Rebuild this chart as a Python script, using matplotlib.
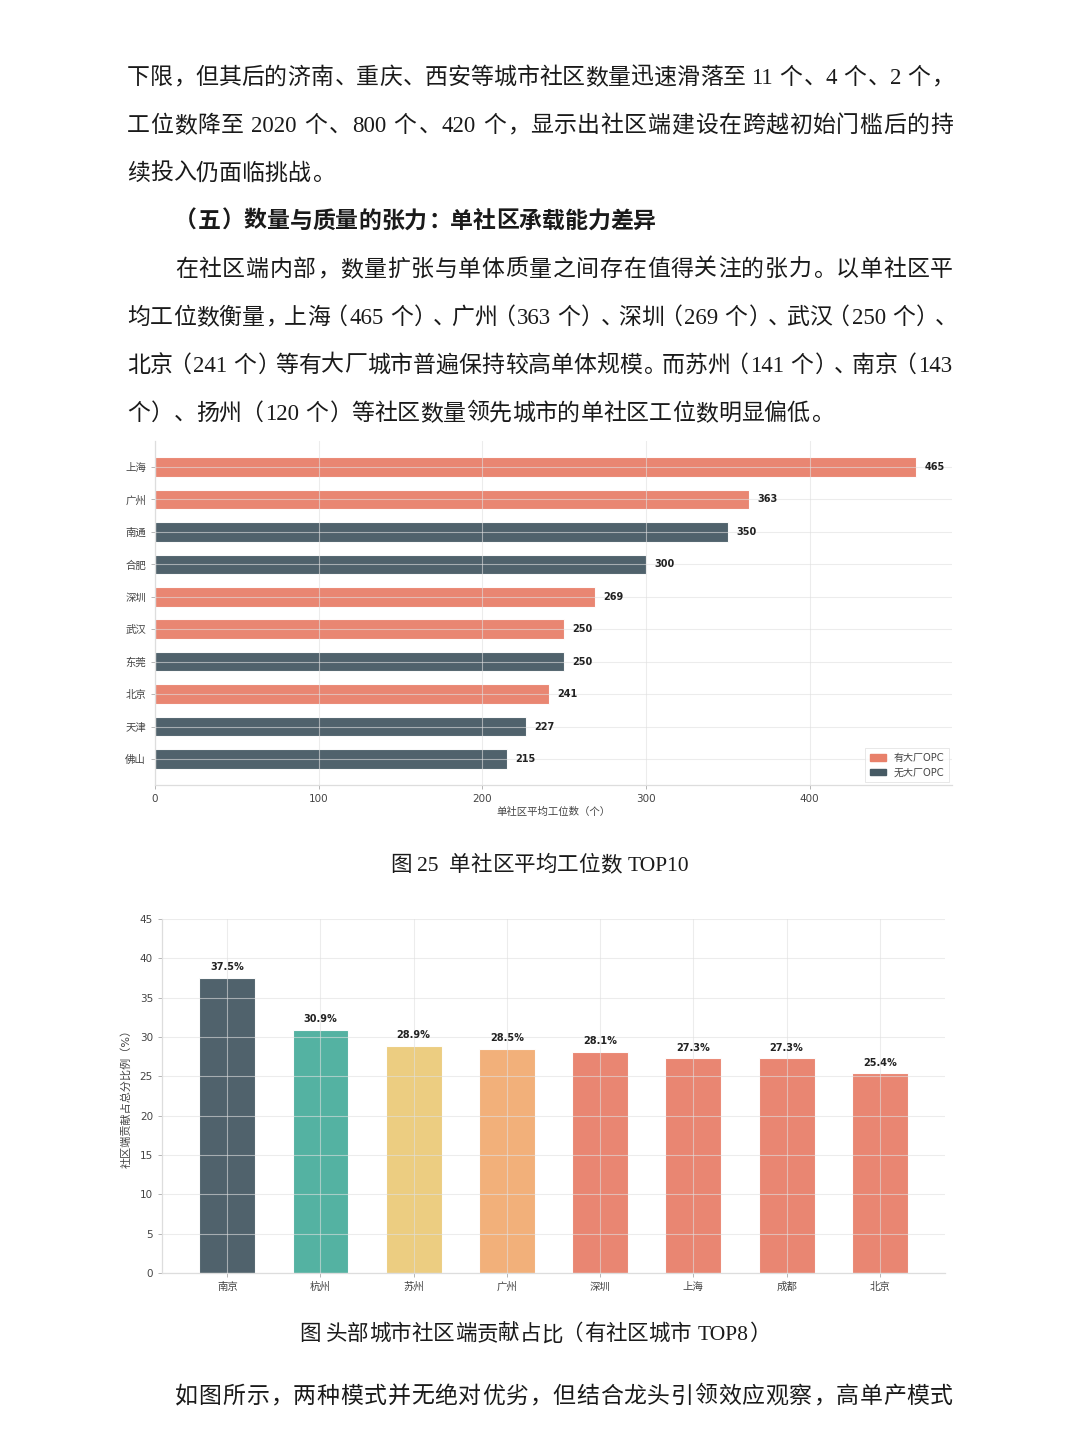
import re
import matplotlib
matplotlib.use("Agg")
import matplotlib.pyplot as plt
from matplotlib.patches import Patch

W, H = 1080, 1440

# chart 1: average seats per community, TOP10
cities_top = ["上海", "广州", "南通", "合肥", "深圳", "武汉", "东莞", "北京", "天津", "佛山"]
seats = [465, 363, 350, 300, 269, 250, 250, 241, 227, 215]
has_big = [True, True, False, False, True, True, False, True, False, False]

# chart 2: community share of total score, TOP8
cities_share = ["南京", "杭州", "苏州", "广州", "深圳", "上海", "成都", "北京"]
share = [37.5, 30.9, 28.9, 28.5, 28.1, 27.3, 27.3, 25.4]

ORANGE = "#E8806A"
SLATE = "#465A64"
share_colors = [SLATE, "#4BAE9D", "#EBCB7A", "#F2AC73", ORANGE, ORANGE, ORANGE, ORANGE]

body_fonts = ["Liberation Serif", "Noto Sans CJK SC", "DejaVu Sans"]
chart_fonts = ["DejaVu Sans", "Noto Sans CJK SC"]

fig = plt.figure(figsize=(W / 100, H / 100), dpi=100)
fig.patch.set_facecolor("white")
renderer = fig.canvas.get_renderer()

LEFT_P = set("，、。：；）」！？")
RIGHT_P = set("（「")


def px(size):
    return size * 100 / 72


def draw_line(s, x0, yc, x1=None, size=16.5, weight="normal", center=None):
    # lay out token by token so the line can be justified like the page
    e = px(size)
    toks = re.findall(r"[0-9A-Za-z.]+| |.", s)
    items = []
    for t in toks:
        if t == " ":
            items.append([None, 0.22 * e, "sp"])
            continue
        txt = fig.text(0, 0, t, fontsize=size, family=body_fonts, weight=weight,
                       color="#1a1a1a", va="baseline")
        if re.match(r"[0-9A-Za-z.]", t):
            w = txt.get_window_extent(renderer).width
            items.append([txt, w + 0.08 * e, "asc"])
        elif t in LEFT_P:
            items.append([txt, e, "lp"])
        elif t in RIGHT_P:
            items.append([txt, e, "rp"])
        else:
            items.append([txt, e, "cjk"])
    total = sum(it[1] for it in items)
    gap = 0
    if x1 is not None and len(items) > 1:
        avail = x1 - x0
        if total > avail:
            # squeeze punctuation the way the typesetter does
            punct = [it for it in items if it[2] in ("lp", "rp")]
            cut = min((total - avail) / max(len(punct), 1), 0.45 * e)
            for it in punct:
                it[1] -= cut
            total = sum(it[1] for it in items)
        gap = (avail - total) / (len(items) - 1)
    if center is not None:
        x0 = center - total / 2
    x = x0
    base = 1 - (yc + 0.38 * e) / H
    for txt, adv, kind in items:
        if txt is not None:
            if kind == "asc":
                txt.set_ha("left")
                txt.set_position(((x + 0.04 * e) / W, base))
            elif kind == "lp":
                txt.set_ha("left")
                txt.set_position(((x + 0.06 * e) / W, base))
            elif kind == "rp":
                txt.set_ha("right")
                txt.set_position(((x + adv - 0.06 * e) / W, base))
            else:
                txt.set_ha("center")
                txt.set_position(((x + 0.5 * e) / W, base))
        x += adv + gap


draw_line("下限，但其后的济南、重庆、西安等城市社区数量迅速滑落至 11 个、4 个、2 个，", 127, 75, 953)
draw_line("工位数降至 2020 个、800 个、420 个，显示出社区端建设在跨越初始门槛后的持", 127, 123, 953)
draw_line("续投入仍面临挑战。", 127, 171)
draw_line("（五）数量与质量的张力：单社区承载能力差异", 175, 219, weight="bold")
draw_line("在社区端内部，数量扩张与单体质量之间存在值得关注的张力。以单社区平", 175, 267, 953)
draw_line("均工位数衡量，上海（465 个）、广州（363 个）、深圳（269 个）、武汉（250 个）、", 127, 315, 953)
draw_line("北京（241 个）等有大厂城市普遍保持较高单体规模。而苏州（141 个）、南京（143", 127, 363, 953)
draw_line("个）、扬州（120 个）等社区数量领先城市的单社区工位数明显偏低。", 127, 411)

draw_line("图 25  单社区平均工位数 TOP10", 0, 863, size=15.5, center=540)
draw_line("图 头部城市社区端贡献占比（有社区城市 TOP8）", 0, 1332, size=15.5, center=535)
draw_line("如图所示，两种模式并无绝对优劣，但结合龙头引领效应观察，高单产模式", 175, 1394, 953)


def style_axes(ax):
    for side in ["top", "right"]:
        ax.spines[side].set_visible(False)
    for side in ["left", "bottom"]:
        ax.spines[side].set_color("#dddddd")
        ax.spines[side].set_linewidth(0.9)
    ax.tick_params(colors="#aaaaaa", labelcolor="#444444", labelsize=7.5, length=3, width=0.6)
    for lab in ax.get_xticklabels() + ax.get_yticklabels():
        lab.set_family(chart_fonts)
    ax.grid(True, color="#e0e0e0", alpha=0.6, linewidth=0.8)


# ---- chart 1 ----
ax1 = fig.add_axes([155 / W, 1 - 785 / H, 797 / W, 344 / H])
colors_top = [ORANGE if b else SLATE for b in has_big]
ax1.barh(range(len(cities_top)), seats, height=0.6, color=colors_top,
         edgecolor="white", linewidth=0.8, alpha=0.95)
ax1.set_yticks(range(len(cities_top)))
ax1.set_yticklabels(cities_top)
ax1.set_xticks([0, 100, 200, 300, 400])
ax1.set_xlim(0, 487)
ax1.set_ylim(9.8, -0.8)
style_axes(ax1)
for i, v in enumerate(seats):
    ax1.text(v + 5, i, str(v), va="center", ha="left", fontsize=7, weight="bold",
             color="#222222", family=chart_fonts)
ax1.set_xlabel("单社区平均工位数（个）", fontsize=7.5, color="#444444",
               family=chart_fonts, labelpad=2)
leg = ax1.legend(handles=[Patch(color=ORANGE, label="有大厂OPC"),
                          Patch(color=SLATE, label="无大厂OPC")],
                 loc="lower right", prop={"family": chart_fonts, "size": 7.2},
                 frameon=True, borderaxespad=0.3, handlelength=1.6, handleheight=0.6,
                 labelspacing=0.45, borderpad=0.45, fancybox=False)
leg.get_frame().set_edgecolor("#dddddd")
leg.get_frame().set_linewidth(0.6)
for t in leg.get_texts():
    t.set_color("#444444")

# ---- chart 2 ----
ax2 = fig.add_axes([162 / W, 1 - 1273 / H, 783 / W, 354 / H])
ax2.bar(range(len(cities_share)), share, width=0.6, color=share_colors,
        edgecolor="white", linewidth=0.8, alpha=0.95)
ax2.set_xticks(range(len(cities_share)))
ax2.set_xticklabels(cities_share)
ax2.set_yticks(range(0, 46, 5))
ax2.set_ylim(0, 45)
ax2.set_xlim(-0.7, 7.7)
style_axes(ax2)
for i, v in enumerate(share):
    ax2.text(i, v + 0.7, f"{v}%", ha="center", va="bottom", fontsize=7, weight="bold",
             color="#222222", family=chart_fonts)
ax2.set_ylabel("社区端贡献占总分比例（%）", fontsize=8, color="#444444",
               family=chart_fonts, labelpad=6)

fig.savefig("out.png", dpi=100, facecolor="white")
